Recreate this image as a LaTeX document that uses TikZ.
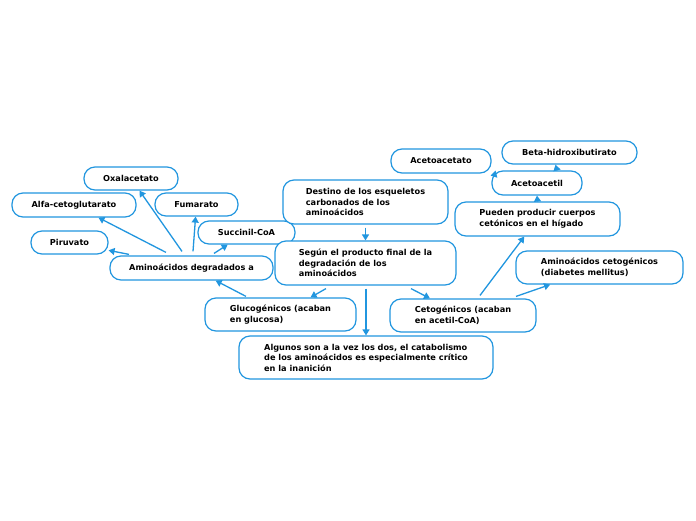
\documentclass[tikz,border=0pt]{standalone}
\usepackage{fontspec}
\setmainfont{DejaVu Sans}
\usetikzlibrary{arrows.meta}
\definecolor{bc}{RGB}{33,150,223}
\begin{document}
\begin{tikzpicture}[x=1pt,y=-1pt,
  box/.style={draw=bc, line width=1.2pt, rounded corners=11pt, fill=white,
    inner sep=0pt, align=left, font=\fontsize{8.2}{10.5}\selectfont\bfseries},
  arr/.style={draw=bc, line width=1.3pt, -{Triangle[length=6pt,width=7pt]}}]
\useasboundingbox[fill=white] (0,0) rectangle (696,520);
\node[box, minimum width=94pt, minimum height=23pt] (oxa) at (131,178.5) {Oxalacetato};
\node[box, minimum width=124pt, minimum height=24pt] (alfa) at (74,205) {Alfa-cetoglutarato};
\node[box, minimum width=83pt, minimum height=23pt] (fum) at (196.5,204.5) {Fumarato};
\node[box, minimum width=77pt, minimum height=23pt] (pir) at (69.5,242.5) {Piruvato};
\node[box, minimum width=97pt, minimum height=23pt] (suc) at (246.5,232.5) {Succinil-CoA};
\node[box, minimum width=163pt, minimum height=24pt] (agr) at (191.5,268) {Aminoácidos degradados a};
\node[box, minimum width=165pt, minimum height=44pt] (des) at (365.5,202) {Destino de los esqueletos\\carbonados de los\\aminoácidos};
\node[box, minimum width=181pt, minimum height=44pt] (seg) at (365.5,263) {Según el producto final de la\\degradación de los\\aminoácidos};
\node[box, minimum width=151pt, minimum height=33pt] (glu) at (280.5,314.5) {Glucogénicos (acaban\\en glucosa)};
\node[box, minimum width=146pt, minimum height=33pt] (cet) at (463,315.5) {Cetogénicos (acaban\\en acetil-CoA)};
\node[box, minimum width=254pt, minimum height=43pt] (alg) at (366,357.5) {Algunos son a la vez los dos, el catabolismo\\de los aminoácidos es especialmente crítico\\en la inanición};
\node[box, minimum width=100pt, minimum height=24pt] (acet) at (441,161) {Acetoacetato};
\node[box, minimum width=135pt, minimum height=23pt] (beta) at (569.5,152.5) {Beta-hidroxibutirato};
\node[box, minimum width=90pt, minimum height=24pt] (acil) at (537,183) {Acetoacetil};
\node[box, minimum width=165pt, minimum height=34pt] (pue) at (537.5,219) {Pueden producir cuerpos\\cetónicos en el hígado};
\node[box, minimum width=167pt, minimum height=33pt] (amc) at (599.5,267.5) {Aminoácidos cetogénicos\\(diabetes mellitus)};
% connectors
\draw[arr] ([yshift=-3pt]des.south) -- (seg.north);
\draw[arr] ([xshift=-39.5pt,yshift=-3pt]seg.south) -- (glu);
\draw[arr] ([xshift=0.5pt,yshift=-3pt]seg.south) -- (alg.north);
\draw[arr] ([xshift=45.5pt,yshift=-3pt]seg.south) -- (cet);
\draw[arr] ([xshift=-34.5pt,yshift=1pt]glu.north) -- (agr);
\draw[arr] ([xshift=-62.5pt,yshift=1pt]agr.north) -- (pir);
\draw[arr] ([xshift=-25.5pt,yshift=3pt]agr.north) -- (alfa);
\draw[arr] ([xshift=-9.5pt,yshift=4pt]agr.north) -- (oxa);
\draw[arr] ([xshift=1.5pt,yshift=4pt]agr.north) -- (fum);
\draw[arr] ([xshift=22.5pt,yshift=2pt]agr.north) -- (suc);
\draw[arr] ([xshift=17pt,yshift=3pt]cet.north) -- (pue);
\draw[arr] ([xshift=53pt,yshift=2pt]cet.north) -- (amc);
\draw[arr] (pue.north) -- (acil.south);
\draw[arr] ([xshift=20pt]acil.north) -- ([xshift=-14pt]beta.south);
\draw[arr] ([xshift=4pt,yshift=-4pt]acil.north west) -- ([xshift=-1pt,yshift=-2pt]acet.south east);
\end{tikzpicture}
\end{document}
